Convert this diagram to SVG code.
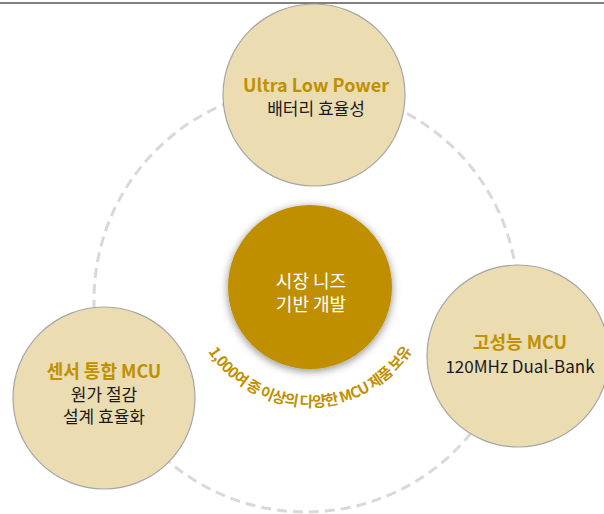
<svg xmlns="http://www.w3.org/2000/svg" width="604" height="514" viewBox="0 0 604 514">
<defs>
<style>
.node{fill:#ebdcb1;stroke:#a6a6a6;stroke-width:1.2}
.t{font-family:"Noto Sans CJK KR","Noto Sans",sans-serif;text-anchor:middle}
.title{font-size:18px;font-weight:700;fill:#bf9000}
.body{font-size:17px;fill:#1a1a1a}
.ctr{font-size:18px;fill:#ffffff}
.arc{font-family:"Noto Sans CJK KR","Noto Sans",sans-serif;font-size:15px;font-weight:700;fill:#bf9000;letter-spacing:-0.7px}
</style>
<filter id="sh" x="-30%" y="-30%" width="160%" height="160%">
<feDropShadow dx="0" dy="2" stdDeviation="4" flood-color="#000" flood-opacity="0.45"/>
</filter>
<path id="arcpath" d="M189,286 A121,121 0 0,0 431,286"/>
</defs>
<rect x="0" y="0" width="604" height="514" fill="#ffffff"/>
<line x1="0" y1="3" x2="604" y2="3" stroke="#808080" stroke-width="2.2"/>
<g id="connectors">
<circle cx="306" cy="300" r="212" fill="none" stroke="#d9d9d9" stroke-width="3" stroke-dasharray="10 6"/>
</g>
<g id="node-top">
<circle class="node" cx="314" cy="95" r="91"/>
<text class="t title" x="316" y="92">Ultra Low Power</text>
<text class="t body" x="316" y="115">배터리 효율성</text>
</g>
<g id="node-left">
<circle class="node" cx="104" cy="398" r="91"/>
<text class="t title" x="104" y="378">센서 통합 MCU</text>
<text class="t body" x="104" y="401">원가 절감</text>
<text class="t body" x="104" y="423">설계 효율화</text>
</g>
<g id="node-right">
<circle class="node" cx="518" cy="356" r="91"/>
<text class="t title" x="520" y="349">고성능 MCU</text>
<text class="t body" x="520" y="373">120MHz Dual-Bank</text>
</g>
<g id="node-center">
<circle cx="310" cy="287" r="82" fill="#bf8f00" filter="url(#sh)"/>
<text class="t ctr" x="311" y="288">시장 니즈</text>
<text class="t ctr" x="311" y="311">기반 개발</text>
<text class="arc"><textPath href="#arcpath" startOffset="50%" text-anchor="middle">1,000여 종 이상의 다양한 MCU 제품 보유</textPath></text>
</g>
</svg>
